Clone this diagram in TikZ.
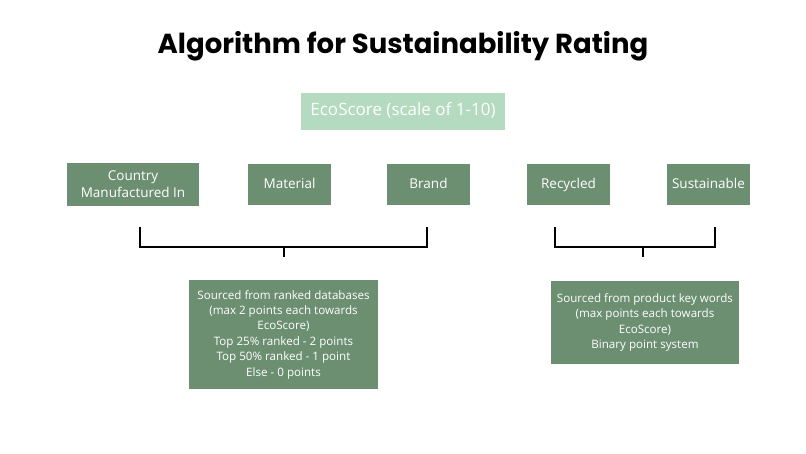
\documentclass[tikz,border=0pt]{standalone}
\usepackage{fontspec}
\setmainfont{Open Sans}
\newfontfamily\titlefont{Poppins}
\usepackage{xcolor}
\usepackage{tikz}
\usetikzlibrary{calc}
\definecolor{ecoDark}{HTML}{6C8F72}
\definecolor{ecoLight}{HTML}{B4DABF}
\tikzstyle{tsTitle} = [
    text=black,
    font=\titlefont\bfseries\fontsize{27.5}{32}\selectfont
]
\tikzstyle{tsBoxText} = [
    text=white,
    font=\fontsize{13.5}{17}\selectfont,
    text centered,
    align=center
]
\tikzstyle{tsRectangle} = [
    rectangle,
    tsBoxText,
    fill=ecoDark,
    draw=none,
    inner sep=0pt]
\tikzstyle{tsSingle} = [
    tsRectangle,
    text height=0.85em,
    text depth=0.15em]
\tikzstyle{tsNoteText} = [
    tsRectangle,
    font=\fontsize{11.6}{15.4}\selectfont]
\tikzstyle{tsBracket} = [
    draw=black,
    line width=1.6pt]

\begin{document}
\begin{tikzpicture}[x=1pt, y=-1pt]

    \useasboundingbox (0,0) rectangle (806,453);

    \node[tsTitle] (title) at (403,46) {Algorithm for Sustainability Rating};

    \node[tsSingle,
            fill=ecoLight,
            font=\fontsize{17}{20}\selectfont,
            minimum width=204pt,
            minimum height=37pt] (eco) at (403,111.5) {EcoScore (scale of 1-10)};

    % criteria
    \node[tsRectangle,
            minimum width=132pt,
            minimum height=43pt] (country) at (133,184) {Country\\Manufactured In};
    \node[tsSingle,
            minimum width=83pt,
            minimum height=41pt] (material) at (289.5,184.5) {Material};
    \node[tsSingle,
            minimum width=83pt,
            minimum height=41pt] (brand) at (428.5,184.5) {Brand};
    \node[tsSingle,
            minimum width=83pt,
            minimum height=41pt] (recycled) at (568.5,184.5) {Recycled};
    \node[tsSingle,
            minimum width=83pt,
            minimum height=41pt] (sustainable) at (708.5,184.5) {Sustainable};

    % brackets
    \coordinate (lbA) at (140,227);
    \coordinate (lbB) at (427,227);
    \coordinate (lbM) at (284,247);
    \coordinate (lbT) at (284,257);
    \coordinate (rbA) at (555,227);
    \coordinate (rbB) at (715,227);
    \coordinate (rbM) at (643,247);
    \coordinate (rbT) at (643,257);

    \draw[tsBracket] (lbA) |- (lbM) -| (lbB);
    \draw[tsBracket] (lbM) -- (lbT);
    \draw[tsBracket] (rbA) |- (rbM) -| (rbB);
    \draw[tsBracket] (rbM) -- (rbT);

    % notes
    \node[tsNoteText,
            minimum width=189pt,
            minimum height=109pt] (ranked) at (283.5,334.5)
            {Sourced from ranked databases\\(max 2 points each towards\\EcoScore)\\Top 25\% ranked - 2 points\\Top 50\% ranked - 1 point\\Else - 0 points};
    \node[tsNoteText,
            minimum width=188pt,
            minimum height=83pt] (keywords) at (645,322.5)
            {Sourced from product key words\\(max points each towards\\EcoScore)\\Binary point system};

\end{tikzpicture}
\end{document}
